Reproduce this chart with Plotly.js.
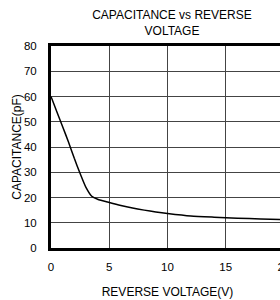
<!DOCTYPE html>
<html>
<head>
<meta charset="utf-8">
<script src="https://cdn.plot.ly/plotly-3.0.1.min.js"></script>
<style>
html,body{margin:0;padding:0;overflow:hidden;background:#fff;width:280px;height:300px;}
#chart{width:344px;height:300px;}
</style>
</head>
<body>
<div id="chart"></div>
<script>
const voltage = [0, 0.5, 1, 1.5, 2, 2.5, 3, 3.5, 4, 5, 6, 7, 8, 9, 10, 12, 14, 16, 18, 20];
const capacitance = [60, 54, 48, 42, 35.5, 29.5, 24, 20.5, 19.3, 18, 16.8, 15.8, 15, 14.3, 13.7, 12.7, 12.2, 11.8, 11.5, 11.3];
const xTicks = [0, 5, 10, 15, 20];
const yTicks = [0, 10, 20, 30, 40, 50, 60, 70, 80];

const fam = 'Liberation Sans, Arial, sans-serif';
const font = {family: fam, size: 11.5, color: '#000'};
const titleFont = {family: fam, size: 12, color: '#000'};

const trace = {
  x: voltage, y: capacitance, mode: 'lines', type: 'scatter',
  line: {color: '#000', width: 1.5, shape: 'spline', smoothing: 0.6},
  hoverinfo: 'skip', showlegend: false
};

const layout = {
  width: 344, height: 300,
  margin: {l: 51, r: 60, t: 46, b: 52, pad: 0},
  paper_bgcolor: '#fff', plot_bgcolor: '#fff',
  font: font,
  title: {text: 'CAPACITANCE vs REVERSE<br>VOLTAGE', font: titleFont,
          xref: 'container', x: 172/344, xanchor: 'center', yref: 'container', y: 1 - 19/300, yanchor: 'middle'},
  xaxis: {
    range: [0, 20], tickvals: xTicks, ticktext: xTicks.map(String),
    showgrid: true, gridcolor: '#444', gridwidth: 1,
    zeroline: false, showline: true, linecolor: '#000', linewidth: 3, mirror: true,
    ticks: '', ticklabelstandoff: 6, tickfont: font,
    title: {text: 'REVERSE VOLTAGE(V)', font: titleFont, standoff: 16},
    fixedrange: true
  },
  yaxis: {
    range: [0, 80], tickvals: yTicks, ticktext: yTicks.map(String),
    showgrid: true, gridcolor: '#444', gridwidth: 1,
    zeroline: false, showline: true, linecolor: '#000', linewidth: 3, mirror: true,
    ticks: '', ticklabelstandoff: 9, tickfont: font,
    title: {text: 'CAPACITANCE(pF)', font: titleFont, standoff: 0},
    automargin: false, fixedrange: true
  }
};

Plotly.newPlot('chart', [trace], layout, {staticPlot: true, displayModeBar: false});
</script>
</body>
</html>
